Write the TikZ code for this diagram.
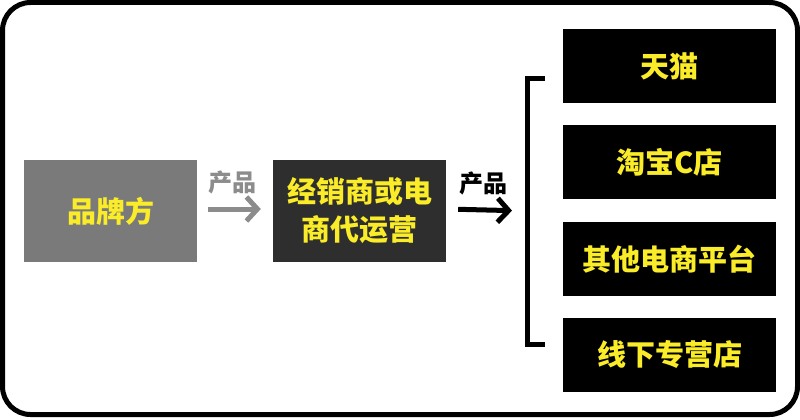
\documentclass[tikz,border=0pt]{standalone}
\usepackage{fontspec}
\usepackage{tikz}
\usetikzlibrary{arrows.meta,positioning}
\newfontfamily\cjk{Noto Sans CJK SC}
\definecolor{brandgray}{RGB}{122,122,122}
\definecolor{dealerdark}{RGB}{46,46,46}
\definecolor{textyellow}{RGB}{250,236,40}
\definecolor{arrowgray}{RGB}{140,140,140}

\begin{document}
\begin{tikzpicture}[x=1pt, y=-1pt,
      every node/.append style={font=\cjk\bfseries},
      flow/.style={line width=5pt, -{Straight Barb[length=11pt,width=24pt,line width=5pt]}}]
    \tikzstyle{box} = [inner sep=0pt, align=center, text=textyellow,
                       font=\cjk\bfseries\fontsize{29}{38}\selectfont]
    \tikzstyle{shop} = [box, fill=black, minimum width=213pt, minimum height=74pt]
    \tikzstyle{tag} = [font=\cjk\bfseries\fontsize{24}{26}\selectfont, inner sep=0pt]
    \useasboundingbox (0,0) rectangle (800,420);
    % frame
    \draw [line width=5pt, rounded corners=28pt] (2.5,2.5) rectangle (797.5,414.5);
    % left part
    \node [box, fill=brandgray, minimum width=173pt, minimum height=102pt] (brand) at (110.5,211) {品牌方};
    \node [box, fill=dealerdark, minimum width=173pt, minimum height=102pt] (dealer) at (359.5,211) {经销商或电\\商代运营};
    % shops
    \node [shop] (tmall) at (669.5,66) {天猫};
    \node [shop] (taobao) at (669.5,162) {淘宝C店};
    \node [shop] (other) at (669.5,259) {其他电商平台};
    \node [shop] (offline) at (669.5,354.5) {线下专营店};
    % bracket
    \coordinate (btop) at (545,78);
    \coordinate (bbot) at (545,344);
    \coordinate (bmid) at (527,213);
    \draw [line width=5pt, miter limit=10] (btop) -- (527,78) -- (527,344) -- (bbot);
    % arrows
    \draw [flow, draw=arrowgray, shorten <=11pt, shorten >=12pt] ([yshift=2pt]brand.east) -- ([yshift=2pt]dealer.west)
      node [tag, text=arrowgray, midway, above=12pt, xshift=-3pt] (tag1) {产品};
    \draw [flow, shorten <=12pt, shorten >=15pt] ([yshift=2pt]dealer.east) -- ([yshift=2pt]bmid)
      node [tag, text=black, midway, above=12pt, xshift=-3pt] (tag2) {产品};
\end{tikzpicture}
\end{document}
